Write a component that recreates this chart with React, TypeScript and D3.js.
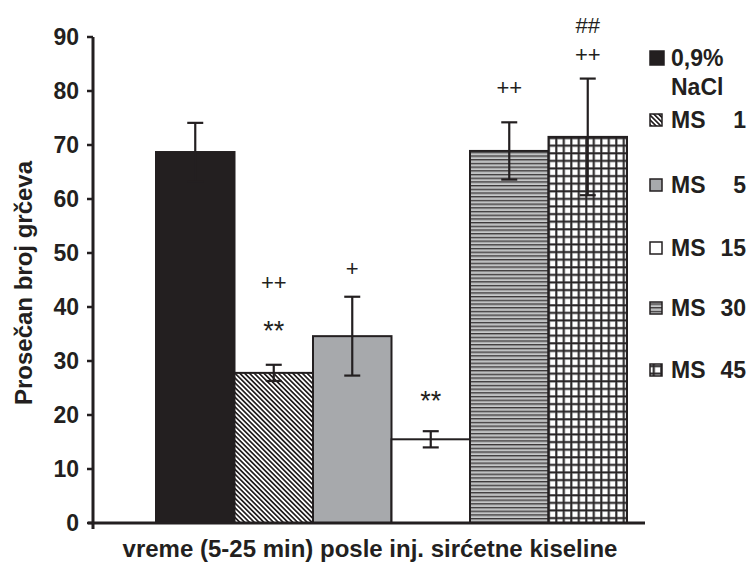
import React from 'react';
import { scaleBand, scaleLinear } from 'd3';

const groups = ['0,9% NaCl', 'MS 1', 'MS 5', 'MS 15', 'MS 30', 'MS 45'];
const means = [68.7, 27.8, 34.6, 15.5, 68.9, 71.5];
const sems = [5.4, 1.5, 7.3, 1.5, 5.3, 10.8];
const yTicks = [0, 10, 20, 30, 40, 50, 60, 70, 80, 90];
// significance marks: text and the value at which each sits
const marks = [
  { group: 'MS 1', text: '**', at: 36.7 },
  { group: 'MS 1', text: '++', at: 44.6 },
  { group: 'MS 5', text: '+', at: 47.2 },
  { group: 'MS 15', text: '**', at: 23.7 },
  { group: 'MS 30', text: '++', at: 80.7 },
  { group: 'MS 45', text: '++', at: 86.9 },
  { group: 'MS 45', text: '##', at: 92.2 },
];
const legendLabels = [['0,9%', 'NaCl'], ['MS', '1'], ['MS', '5'], ['MS', '15'], ['MS', '30'], ['MS', '45']];

const fills = ['#231f20', 'url(#diag)', '#a7a9ac', '#ffffff', 'url(#hlines)', 'url(#grid)'];
const ink = '#231f20';
const font = '"Liberation Sans", Arial, sans-serif';

export default function App() {
  const x = scaleBand<string>().domain(groups).range([156, 627]).padding(0);
  const y = scaleLinear().domain([0, 90]).range([523, 37]);
  const legendY = [58, 120, 185, 248, 308, 370];

  return (
    <svg width={750} height={575} style={{ position: 'absolute', left: 0, top: 0, background: '#fff' }} fontFamily={font}>
      <defs>
        <pattern id="diag" patternUnits="userSpaceOnUse" width={3.4} height={3.4} patternTransform="rotate(-45)">
          <rect width={3.4} height={3.4} fill="#fff" />
          <rect width={1.7} height={3.4} fill={ink} />
        </pattern>
        <pattern id="hlines" patternUnits="userSpaceOnUse" width={4} height={3.7}>
          <rect width={4} height={3.7} fill="#d9dadb" />
          <rect y={0} width={4} height={1.4} fill="#3a3738" />
          <rect y={2.3} width={4} height={0.7} fill="#9c9ea0" />
        </pattern>
        <pattern id="grid" patternUnits="userSpaceOnUse" width={7.5} height={7.6}>
          <rect width={7.5} height={7.6} fill="#fff" />
          <rect width={2.6} height={7.6} fill="#8d8f91" />
          <rect width={7.5} height={2.6} fill="#8d8f91" />
          <rect x={0.5} width={1.5} height={7.6} fill={ink} />
          <rect y={0.5} width={7.5} height={1.5} fill={ink} />
        </pattern>
      </defs>

      {groups.map((g, i) => (
        <rect
          key={g}
          x={x(g)}
          y={y(means[i])}
          width={x.bandwidth()}
          height={y(0) - y(means[i])}
          fill={fills[i]}
          stroke={ink}
          strokeWidth={2}
        />
      ))}

      {groups.map((g, i) => {
        const cx = (x(g) ?? 0) + x.bandwidth() / 2;
        const top = y(means[i] + sems[i]);
        const bot = y(means[i] - sems[i]);
        return (
          <g key={'e' + g} stroke={ink} strokeWidth={2.2}>
            <line x1={cx} x2={cx} y1={top} y2={bot} />
            <line x1={cx - 8} x2={cx + 8} y1={top} y2={top} />
            <line x1={cx - 8} x2={cx + 8} y1={bot} y2={bot} />
          </g>
        );
      })}

      {marks.map((m, i) => {
        const cx = (x(m.group) ?? 0) + x.bandwidth() / 2;
        const star = m.text[0] === '*';
        return (
          <text
            key={'m' + i}
            x={cx}
            y={y(m.at) + (star ? 15 : 8)}
            textAnchor="middle"
            fontSize={star ? 27 : 22}
            fill={ink}
          >
            {m.text}
          </text>
        );
      })}

      {/* axes */}
      <line x1={93} x2={93} y1={37} y2={529} stroke={ink} strokeWidth={3} />
      <line x1={88} x2={645} y1={y(0)} y2={y(0)} stroke={ink} strokeWidth={3} />
      {yTicks.map((t) => (
        <g key={t}>
          <line x1={87} x2={93} y1={y(t)} y2={y(t)} stroke={ink} strokeWidth={2.5} />
          <text x={79} y={y(t)} dy="0.36em" textAnchor="end" fontSize={23} fontWeight="bold" fill={ink}>
            {t}
          </text>
        </g>
      ))}

      <text
        transform="translate(32,283) rotate(-90)"
        textAnchor="middle"
        fontSize={24}
        fontWeight="bold"
        fill={ink}
      >
        Prosečan broj grčeva
      </text>
      <text x={370} y={557} textAnchor="middle" fontSize={24} fontWeight="bold" fill={ink}>
        vreme (5-25 min) posle inj. sirćetne kiseline
      </text>

      {/* legend */}
      {legendLabels.map((lab, i) => {
        const cy = legendY[i];
        const s = i === 0 ? 14 : 12;
        return (
          <g key={'l' + i}>
            <rect x={650} y={cy - s / 2} width={s} height={s} fill={fills[i]} stroke={ink} strokeWidth={1.5} />
            {i === 0 ? (
              <>
                <text x={671} y={cy + 8} fontSize={23} fontWeight="bold" fill={ink}>{lab[0]}</text>
                <text x={671} y={cy + 37} fontSize={23} fontWeight="bold" fill={ink}>{lab[1]}</text>
              </>
            ) : (
              <>
                <text x={671} y={cy + 8} fontSize={23} fontWeight="bold" fill={ink}>{lab[0]}</text>
                <text x={746} y={cy + 8} textAnchor="end" fontSize={23} fontWeight="bold" fill={ink}>{lab[1]}</text>
              </>
            )}
          </g>
        );
      })}
    </svg>
  );
}
